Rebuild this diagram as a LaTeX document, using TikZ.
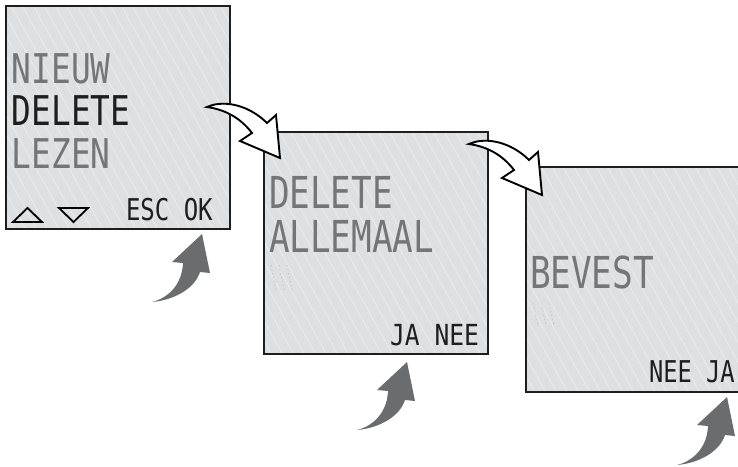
\documentclass[tikz,border=0pt]{standalone}
\usepackage{fontspec}
\newfontfamily\lcd{DejaVu Sans Mono}
\definecolor{lcdbg}{HTML}{DEDFE1}
\definecolor{lcdgray}{HTML}{747577}
\definecolor{lcddark}{HTML}{1E1E1E}
\definecolor{pressgray}{HTML}{6B6C6E}
\begin{document}
\begin{tikzpicture}[x=1pt,y=-1pt,
  screen/.style={fill=lcdbg, draw=none, inner sep=0pt, outer sep=0pt, anchor=north west},
  border/.style={draw=lcddark, line width=1.5pt},
  stripe/.style={white, line width=0.6pt, opacity=0.5},
  lcdtxt/.style={inner sep=0pt, outer sep=0pt, anchor=base west},
  bigtxt/.style={lcdtxt, font=\lcd\fontsize{41}{41}\selectfont},
  midtxt/.style={lcdtxt, font=\lcd\fontsize{44}{44}\selectfont},
  smalltxt/.style={lcdtxt, text=lcddark, font=\lcd\fontsize{30}{30}\selectfont},
  whitearrow/.style={fill=white, draw=black, line width=1.9pt, line join=miter},
  pressarrow/.style={fill=pressgray, draw=none},
  faint/.style={draw=gray!55, line width=0.6pt, dash pattern=on 1.5pt off 2.5pt},
  tri/.style={draw=black, line width=1.8pt, line join=miter}
]
\useasboundingbox (0,0) rectangle (738,466);
\clip (0,0) rectangle (738,466);

% screens
\node[screen, minimum width=224pt, minimum height=223pt] (s1) at (6,6) {};
\node[screen, minimum width=224pt, minimum height=222pt] (s2) at (264,132) {};
\node[screen, minimum width=224pt, minimum height=225pt] (s3) at (526,167) {};

\begin{scope}
  \clip (s1.north west) rectangle (s1.south east)
        (s2.north west) rectangle (s2.south east)
        (s3.north west) rectangle (s3.south east);
  \foreach \i in {-300,-289,...,760} \draw[stripe] (\i,0) -- ++(260,466);
\end{scope}

\draw[border] (s1.north west) rectangle (s1.south east);
\draw[border] (s2.north west) rectangle (s2.south east);
\draw[border] (s3.north west) rectangle (s3.south east);

% screen 1 texts
\node[bigtxt, text=lcdgray] (t11) at (12,83) {\scalebox{0.8}[1]{NIEUW}};
\node[bigtxt, text=lcddark] (t12) at (12,125) {\scalebox{0.8}[1]{DELETE}};
\node[bigtxt, text=lcdgray] (t13) at (12,168) {\scalebox{0.8}[1]{LEZEN}};
\node[smalltxt] (t14) at (126,220) {\scalebox{0.8}[1]{ESC OK}};
\draw[tri] (13,222) -- (42,222) -- (27.5,208) -- cycle;
\draw[tri] (59,208) -- (88,208) -- (73.5,222) -- cycle;

% screen 2 texts
\node[midtxt, text=lcdgray] (t21) at (269,208) {\scalebox{0.78}[1]{DELETE}};
\node[midtxt, text=lcdgray] (t22) at (269,252) {\scalebox{0.78}[1]{ALLEMAAL}};
\node[smalltxt, font=\lcd\fontsize{29}{29}\selectfont] (t23) at (390,345) {\scalebox{0.85}[1]{JA NEE}};
\draw[faint] (271,265) -- (276,290);
\draw[faint] (279,265) -- (284,290);
\draw[faint] (287,265) -- (292,290);

% screen 3 texts
\node[midtxt, text=lcdgray] (t31) at (530,288) {\scalebox{0.78}[1]{BEVEST}};
\node[smalltxt] (t32) at (649,382) {\scalebox{0.79}[1]{NEE JA}};
\draw[faint] (533,303) -- (538,325);
\draw[faint] (541,303) -- (546,325);
\draw[faint] (549,303) -- (554,325);

% white transition arrows
\foreach \dx/\dy in {0/0, 262/37}
  \draw[whitearrow, shift={(\dx,\dy)}]
    (207,107) .. controls (225,99) and (250,106) .. (267,123)
    -- (276,115) -- (280,158) -- (240,141) -- (252,133)
    .. controls (242,120) and (228,110) .. cycle;

% grey press arrows
\foreach \dx/\dy in {0/0, 205/128, 525/163}
  \fill[pressarrow, shift={(\dx,\dy)}]
    (152,302) .. controls (168,298) and (182,285) .. (183,263)
    -- (172,262) -- (202,234) -- (210,273) -- (200,272)
    .. controls (195,288) and (175,300) .. cycle;
\end{tikzpicture}
\end{document}
